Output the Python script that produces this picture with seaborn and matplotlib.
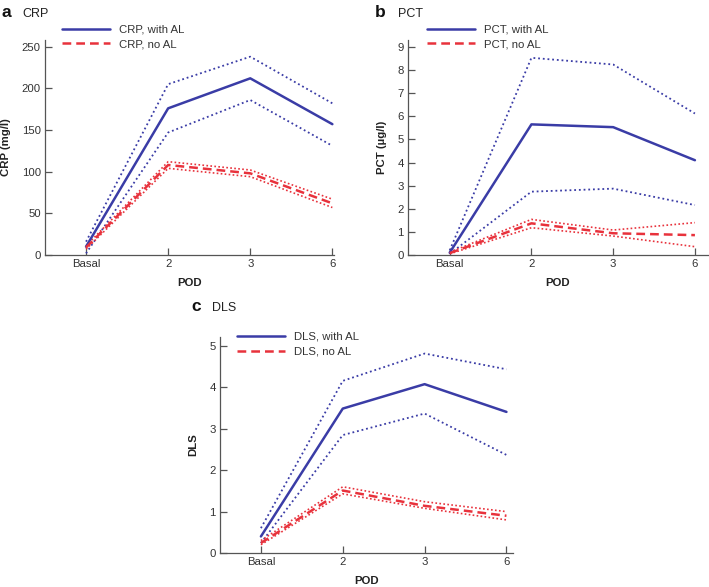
import matplotlib
matplotlib.use("Agg")
import matplotlib.pyplot as plt
import seaborn as sns
import pandas as pd

pod = ["Basal", "2", "3", "6"]

crp_al_mean = [10, 176, 212, 157]
crp_al_upper = [16, 205, 238, 182]
crp_al_lower = [2, 147, 186, 131]
crp_no_mean = [9, 108, 98, 62]
crp_no_upper = [11, 112, 102, 67]
crp_no_lower = [7, 104, 94, 57]

pct_al_mean = [0.10, 5.65, 5.53, 4.10]
pct_al_upper = [0.20, 8.53, 8.24, 6.12]
pct_al_lower = [0.05, 2.74, 2.87, 2.16]
pct_no_mean = [0.08, 1.37, 0.94, 0.86]
pct_no_upper = [0.12, 1.54, 1.08, 1.40]
pct_no_lower = [0.05, 1.18, 0.82, 0.36]

dls_al_mean = [0.40, 3.49, 4.08, 3.41]
dls_al_upper = [0.60, 4.16, 4.82, 4.44]
dls_al_lower = [0.24, 2.85, 3.37, 2.37]
dls_no_mean = [0.24, 1.51, 1.14, 0.90]
dls_no_upper = [0.30, 1.60, 1.24, 1.00]
dls_no_lower = [0.20, 1.43, 1.08, 0.80]

BLUE = "#3a3ca6"
RED = "#e8323c"
GREY = "#555555"

sns.set_theme(style="white")
plt.rcParams["font.family"] = ["Liberation Sans", "DejaVu Sans"]

fig = plt.figure(figsize=(7.09, 5.87), dpi=100)
W, H = 709, 587


def make_axes(left, right, bottom, top):
    return fig.add_axes([left / W, 1 - bottom / H, (right - left) / W, (bottom - top) / H])


def draw(ax, name, unit_label, al_mean, al_up, al_lo, no_mean, no_up, no_lo,
         ylim, yticks, xlim, leg_anchor, ylab_x):
    df = pd.DataFrame({
        "POD": pod,
        "al_mean": al_mean, "al_up": al_up, "al_lo": al_lo,
        "no_mean": no_mean, "no_up": no_up, "no_lo": no_lo,
    })
    for col in ["al_up", "al_lo"]:
        sns.lineplot(data=df, x="POD", y=col, ax=ax, color=BLUE, lw=1.3,
                     linestyle=(0, (1, 1.6)), sort=False)
    for col in ["no_up", "no_lo"]:
        sns.lineplot(data=df, x="POD", y=col, ax=ax, color=RED, lw=1.2,
                     linestyle=(0, (1, 1.4)), sort=False)
    sns.lineplot(data=df, x="POD", y="al_mean", ax=ax, color=BLUE, lw=1.8,
                 sort=False, label=f"{name}, with AL")
    sns.lineplot(data=df, x="POD", y="no_mean", ax=ax, color=RED, lw=1.8,
                 linestyle=(0, (3.5, 2)), sort=False, label=f"{name}, no AL")
    ax.set_xlim(*xlim)
    ax.set_ylim(*ylim)
    ax.set_yticks(yticks)
    ax.set_xticks(range(len(pod)))
    ax.set_xticklabels(pod)
    for s in ["top", "right"]:
        ax.spines[s].set_visible(False)
    for s in ["left", "bottom"]:
        ax.spines[s].set_color(GREY)
        ax.spines[s].set_linewidth(0.9)
    ax.tick_params(direction="in", length=5, width=0.9, color=GREY,
                   labelsize=8.2, labelcolor="#333333", pad=3,
                   left=True, bottom=True)
    ax.set_xlabel("POD", fontsize=8.2, fontweight="bold", color="#222222")
    ax.set_ylabel(unit_label, fontsize=8.2, fontweight="bold", color="#222222")
    ax.xaxis.set_label_coords(0.5, -0.105)
    ax.yaxis.set_label_coords(ylab_x, 0.5)
    leg = ax.legend(loc="upper left", bbox_to_anchor=leg_anchor, frameon=False,
                    fontsize=8.2, handlelength=4.2, handletextpad=0.8,
                    labelspacing=0.42, borderpad=0, borderaxespad=0)
    for t in leg.get_texts():
        t.set_color("#333333")


ax_a = make_axes(45, 334, 255, 40)
draw(ax_a, "CRP", "CRP (mg/l)", crp_al_mean, crp_al_upper, crp_al_lower,
     crp_no_mean, crp_no_upper, crp_no_lower,
     (0, 258), [0, 50, 100, 150, 200, 250], (-0.5, 3.02), (0.059, 1.072), -0.118)

ax_b = make_axes(408, 708, 255, 40)
draw(ax_b, "PCT", "PCT (\u00b5g/l)", pct_al_mean, pct_al_upper, pct_al_lower,
     pct_no_mean, pct_no_upper, pct_no_lower,
     (0, 9.3), list(range(10)), (-0.51, 3.16), (0.063, 1.072), -0.07)

ax_c = make_axes(220, 513, 553, 337)
draw(ax_c, "DLS", "DLS", dls_al_mean, dls_al_upper, dls_al_lower,
     dls_no_mean, dls_no_upper, dls_no_lower,
     (0, 5.22), [0, 1, 2, 3, 4, 5], (-0.5, 3.08), (0.058, 1.024), -0.075)

for x, xt, y, letter, title in [(2, 22, 17, "a", "CRP"), (375, 398, 17, "b", "PCT"),
                                 (191, 212, 311, "c", "DLS")]:
    fig.text(x / W, 1 - y / H, letter, fontsize=12.5, fontweight="bold", color="#111111")
    fig.text(xt / W, 1 - y / H, title, fontsize=9, color="#222222")

fig.savefig("out.png", dpi=100)
